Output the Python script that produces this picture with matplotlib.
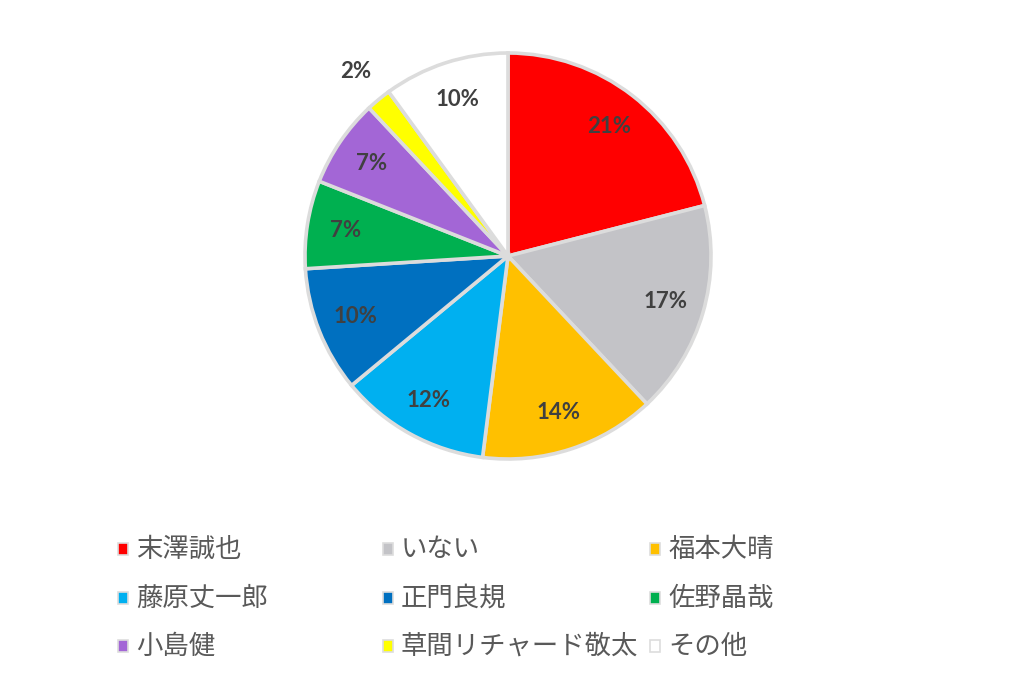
import matplotlib.pyplot as plt
from matplotlib.patches import Rectangle

plt.rcParams['font.family'] = ['Noto Sans CJK JP', 'DejaVu Sans']

names = ['末澤誠也', 'いない', '福本大晴', '藤原丈一郎', '正門良規', '佐野晶哉',
         '小島健', '草間リチャード敬太', 'その他']
values = [21, 17, 14, 12, 10, 7, 7, 2, 10]
colors = ['#FF0000', '#C3C3C7', '#FFC000', '#00B0F0', '#0070C0', '#00B050',
          '#A366D6', '#FFFF00', '#FFFFFF']

W, H = 1024, 674
fig = plt.figure(figsize=(W / 100, H / 100), dpi=100)
cx, cy, r = 508, 256, 203
ax = fig.add_axes([(cx - r) / W, (H - cy - r) / H, 2 * r / W, 2 * r / H])

wedges, texts, autotexts = ax.pie(values, colors=colors, startangle=90, counterclock=False,
                                  autopct='%1.0f%%', pctdistance=0.81,
                                  wedgeprops=dict(edgecolor='#DCDCDC', linewidth=2.6),
                                  textprops=dict(color='#404040', fontsize=16,
                                                 fontweight='bold', family='Lato'))
# the small slice has its label outside
x, y = autotexts[7].get_position()
autotexts[7].set_position((x / 0.81 * 1.18, y / 0.81 * 1.18))
ax.set_aspect('equal')
ax.set_xlim(-1, 1)
ax.set_ylim(-1, 1)

# legend, three equal columns like the spreadsheet one
col_x = [123, 388, 655]
row_y = [549, 598, 646]
for i, (name, c) in enumerate(zip(names, colors)):
    px = col_x[i % 3]
    py = row_y[i // 3]
    fig.patches.append(Rectangle(((px - 5) / W, (H - py - 6) / H), 10 / W, 12 / H,
                                 transform=fig.transFigure, facecolor=c,
                                 edgecolor='#DDDDDD', linewidth=1.2))
    fig.text((px + 13) / W, (H - py) / H, name, fontsize=19, color='#595959',
             va='center', ha='left')

fig.savefig('out.png', dpi=100)
